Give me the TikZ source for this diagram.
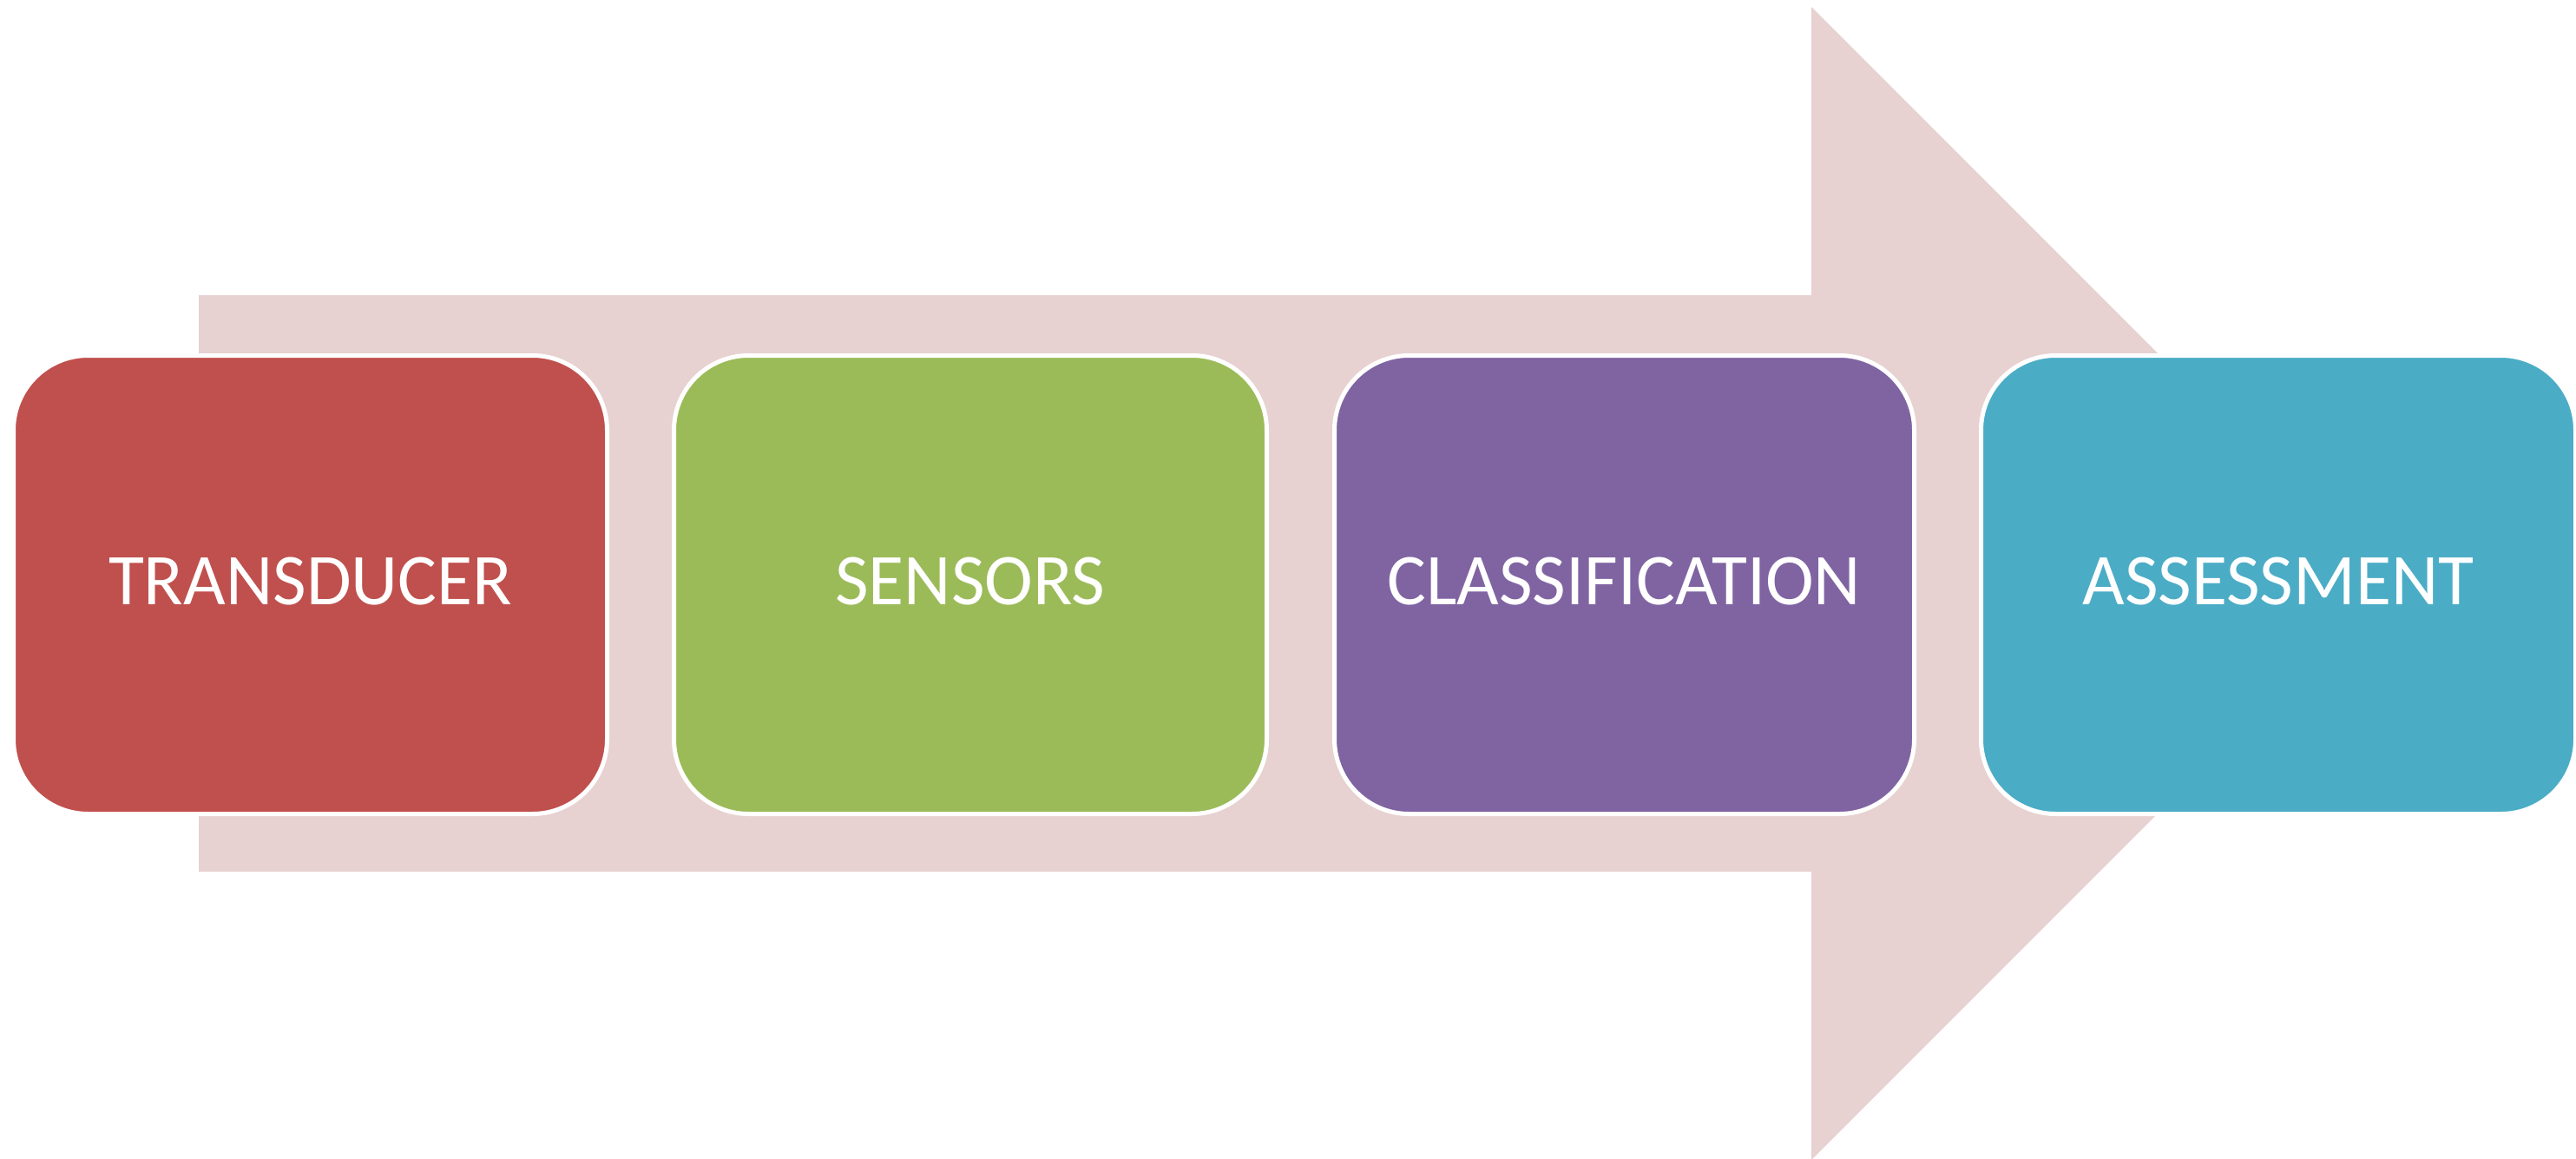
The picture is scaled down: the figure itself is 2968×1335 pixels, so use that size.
\documentclass[tikz,border=0pt]{standalone}
\usepackage{fontspec}
\setmainfont{Carlito}
\definecolor{arrowpink}{HTML}{E7D1D1}
\definecolor{boxred}{HTML}{C0504D}
\definecolor{boxgreen}{HTML}{9BBB59}
\definecolor{boxpurple}{HTML}{8064A2}
\definecolor{boxblue}{HTML}{4BACC6}
\tikzset{
  stepbox/.style={rectangle, rounded corners=86pt, draw=white, line width=5pt,
    minimum height=528pt, inner sep=0pt, outer sep=0pt, text=white,
    text height=54pt, text depth=9pt,
    font=\fontsize{84}{100}\selectfont}
}
\begin{document}
\begin{tikzpicture}[x=1pt,y=-1pt]
\useasboundingbox (0,0) rectangle (2968,1335);
\fill[white] (0,0) rectangle (2968,1335);
% big background arrow
\fill[arrowpink] (229,340) -- (2087,340) -- (2087,8) -- (2751,672) -- (2087,1336) -- (2087,1004) -- (229,1004) -- cycle;
% steps
\node[stepbox, fill=boxred,    minimum width=684pt] (s1) at (357.5,673.5) {TRANSDUCER};
\node[stepbox, fill=boxgreen,  minimum width=683pt] (s2) at (1118,673.5) {SENSORS};
\node[stepbox, fill=boxpurple, minimum width=668pt] (s3) at (1871.5,673.5) {CLASSIFICATION};
\node[stepbox, fill=boxblue,   minimum width=685pt] (s4) at (2625,673.5) {ASSESSMENT};
\end{tikzpicture}
\end{document}
